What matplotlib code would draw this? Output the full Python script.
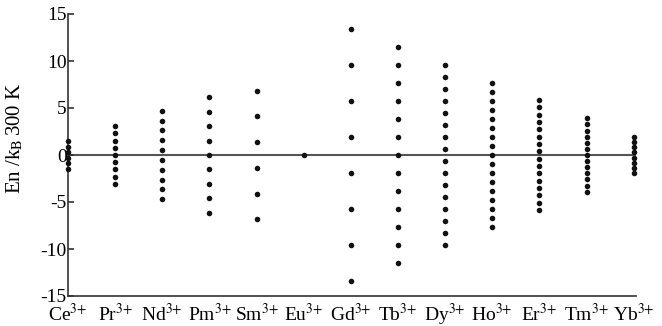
import numpy as np
import matplotlib
matplotlib.use('Agg')
import matplotlib.pyplot as plt

plt.rcParams['font.family'] = ['Liberation Serif', 'DejaVu Serif']
plt.rcParams['mathtext.fontset'] = 'stix'

# ions and their level energies (En / kB 300 K)
ions = ['Ce', 'Pr', 'Nd', 'Pm', 'Sm', 'Eu', 'Gd', 'Tb', 'Dy', 'Ho', 'Er', 'Tm', 'Yb']

ce = [1.45, 0.87, 0.29, -0.29, -0.87, -1.45]
pr = [3.08, 2.31, 1.54, 0.77, 0.0, -0.77, -1.54, -2.31, -3.08]
nd = [4.70, 3.66, 2.61, 1.57, 0.52, -0.52, -1.57, -2.61, -3.66, -4.70]
pm = [6.14, 4.61, 3.07, 1.54, 0.0, -1.54, -3.07, -4.61, -6.14]
sm = [6.84, 4.10, 1.37, -1.37, -4.10, -6.84]
eu = [0.0]
gd = [13.40, 9.57, 5.74, 1.91, -1.91, -5.74, -9.57, -13.40]
tb = [11.50, 9.58, 7.67, 5.75, 3.83, 1.92, 0.0,
      -1.92, -3.83, -5.75, -7.67, -9.58, -11.50]
dy = [9.60, 8.32, 7.04, 5.76, 4.48, 3.20, 1.92, 0.64,
      -0.64, -1.92, -3.20, -4.48, -5.76, -7.04, -8.32, -9.60]
ho = [7.70, 6.74, 5.78, 4.81, 3.85, 2.89, 1.93, 0.96, 0.0,
      -0.96, -1.93, -2.89, -3.85, -4.81, -5.78, -6.74, -7.70]
er = [5.85, 5.07, 4.29, 3.51, 2.73, 1.95, 1.17, 0.39,
      -0.39, -1.17, -1.95, -2.73, -3.51, -4.29, -5.07, -5.85]
tm = [3.90, 3.25, 2.60, 1.95, 1.30, 0.65, 0.0,
      -0.65, -1.30, -1.95, -2.60, -3.25, -3.90]
yb = [1.95, 1.39, 0.84, 0.28, -0.28, -0.84, -1.39, -1.95]

levels = [ce, pr, nd, pm, sm, eu, gd, tb, dy, ho, er, tm, yb]
yticks = [-15, -10, -5, 0, 5, 10, 15]

fig = plt.figure(figsize=(6.62, 3.26), dpi=100)
ax = fig.add_axes([68 / 662, 30 / 326, (636 - 68) / 662, 282 / 326])

ax.axhline(0, color='#555555', lw=1.5, zorder=1)
for i, vals in enumerate(levels):
    ax.plot([i] * len(vals), vals, 'o', color='#111111', ms=4,
            mec='none', zorder=3, clip_on=False)

ax.set_xlim(0, 12.05)
ax.set_ylim(-15, 15)

ax.spines['top'].set_visible(False)
ax.spines['right'].set_visible(False)
for s in ['left', 'bottom']:
    ax.spines[s].set_color('#333333')
    ax.spines[s].set_linewidth(1.2)

ax.set_yticks(yticks)
ax.set_yticklabels([str(t) for t in yticks], fontsize=14)
ax.tick_params(axis='y', direction='in', length=4, width=1.2,
               color='#333333', pad=1)

# labels at every ion, tick marks at every other one
ax.set_xticks(range(len(ions)))
ax.set_xticklabels([n + r'$^{3{+}}$' for n in ions], fontsize=14)
for lab in ax.get_xticklabels():
    lab.set_verticalalignment('baseline')
ax.set_xticks(range(1, len(ions), 2), minor=True)
ax.tick_params(axis='x', which='major', length=0, pad=18)
ax.tick_params(axis='x', which='minor', direction='in', length=4,
               width=1.2, color='#333333')

ax.set_ylabel(r'En /k$_{\mathrm{B}}\,$300 K', fontsize=15)
ax.yaxis.set_label_coords(-0.075, 0.56)

fig.savefig('out.png', dpi=100)
